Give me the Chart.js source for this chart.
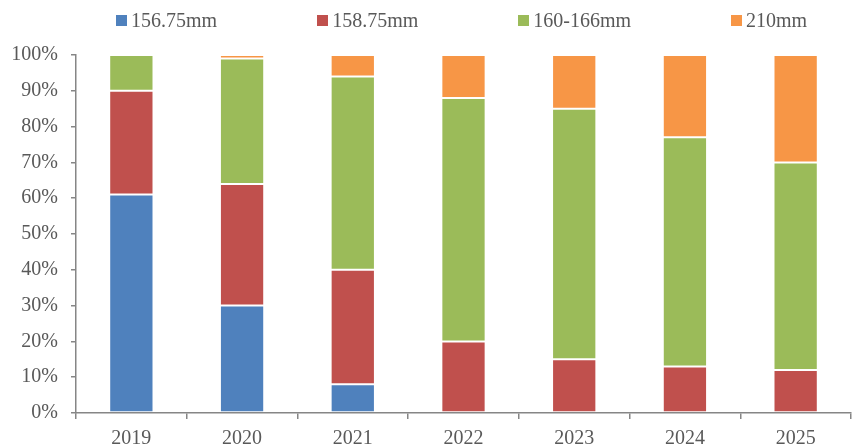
<!DOCTYPE html>
<html>
<head>
<meta charset="utf-8">
<script src="https://cdn.jsdelivr.net/npm/chart.js@4.4.1/dist/chart.umd.min.js"></script>
<style>
  html, body { margin: 0; padding: 0; background: #fff; }
  #wrap { position: relative; width: 852px; height: 446px; }
  #legend {
    position: absolute; left: 116px; top: 9px;
    display: flex; gap: 100px;
    font-family: "Liberation Serif", serif; font-size: 20px; color: #595959;
  }
  #legend .item { display: flex; align-items: center; white-space: nowrap; }
  #legend .box { width: 11px; height: 11px; margin-right: 4px; }
</style>
</head>
<body>
<div id="wrap">
  <canvas id="chart" width="852" height="446"></canvas>
  <div id="legend"></div>
</div>
<script>
const years = ["2019", "2020", "2021", "2022", "2023", "2024", "2025"];
const seriesNames = ["156.75mm", "158.75mm", "160-166mm", "210mm"];
const seriesColors = ["#4F81BD", "#C0504D", "#9BBB59", "#F79646"];

// share of each wafer size, %
const s156 = [61, 30, 8, 0, 0, 0, 0];
const s158 = [29, 34, 32, 20, 15, 13, 12];
const s160 = [10, 35, 54, 68, 70, 64, 58];
const s210 = [0, 1, 6, 12, 15, 23, 30];

const yTicks = [0, 10, 20, 30, 40, 50, 60, 70, 80, 90, 100];

const seriesValues = [s156, s158, s160, s210];
const axisColor = "#868686";
const textColor = "#595959";
const font = { family: "'Liberation Serif', serif", size: 20 };

// legend (html, so spacing matches the original)
const legendEl = document.getElementById("legend");
seriesNames.forEach((name, i) => {
  legendEl.insertAdjacentHTML("beforeend",
    `<div class="item"><span class="box" style="background:${seriesColors[i]}"></span>${name}</div>`);
});

new Chart(document.getElementById("chart").getContext("2d"), {
  type: "bar",
  data: {
    labels: years,
    datasets: seriesNames.map((name, i) => ({
      label: name,
      data: seriesValues[i],
      backgroundColor: seriesColors[i],
      borderColor: "rgba(255,255,255,0.18)",
      borderWidth: ctx => ctx.raw ? 1 : 0,
      borderSkipped: false,
      barPercentage: 0.4,
      categoryPercentage: 1
    }))
  },
  options: {
    responsive: false,
    animation: false,
    layout: { padding: { top: 55, right: 1, left: 0, bottom: 0 } },
    plugins: { legend: { display: false }, tooltip: { enabled: false } },
    scales: {
      x: {
        stacked: true,
        grid: { display: true, drawOnChartArea: false, drawTicks: true, tickLength: 6, color: axisColor, lineWidth: 1.5, offset: true },
        border: { display: true, color: axisColor, width: 1.5 },
        ticks: { color: textColor, font, padding: 8, maxRotation: 0 },
        afterFit: s => { s.height = 33; }
      },
      y: {
        stacked: true,
        min: 0,
        max: 100,
        afterBuildTicks: s => { s.ticks = yTicks.map(v => ({ value: v })); },
        grid: { display: true, drawOnChartArea: false, drawTicks: true, tickLength: 5, color: axisColor, lineWidth: 1.5 },
        border: { display: true, color: axisColor, width: 1.5 },
        ticks: { color: textColor, font, padding: 13, callback: v => v + "%" },
        afterFit: s => { s.width = 76; }
      }
    }
  }
});
</script>
</body>
</html>
